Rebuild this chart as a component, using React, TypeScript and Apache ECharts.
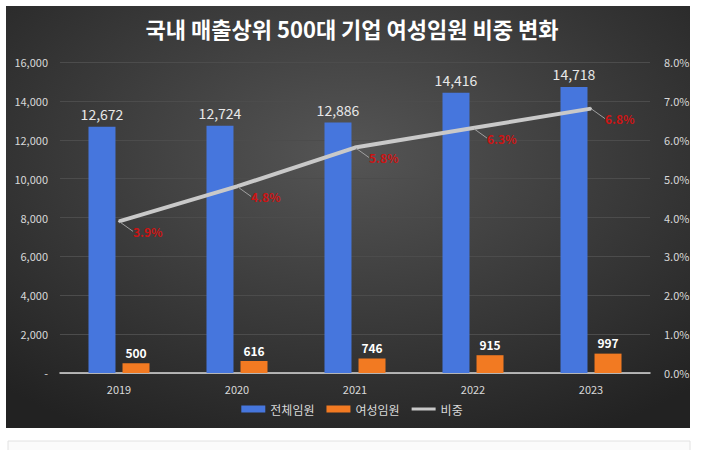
import React, { useEffect, useRef } from "react";
import * as echarts from "echarts";

const title = "국내 매출상위 500대 기업 여성임원 비중 변화";
const years = ["2019", "2020", "2021", "2022", "2023"];
const totalExecs = [12672, 12724, 12886, 14416, 14718];
const femaleExecs = [500, 616, 746, 915, 997];
const femaleShare = [3.9, 4.8, 5.8, 6.3, 6.8];
const seriesNames = ["전체임원", "여성임원", "비중"];

const FONT = "'Noto Sans CJK KR', 'Noto Sans', sans-serif";

export default function App() {
  const ref = useRef<HTMLDivElement>(null);
  useEffect(() => {
    if (!ref.current) return;
    const chart = echarts.init(ref.current, undefined, { renderer: "svg" });
    chart.setOption({
      animation: false,
      backgroundColor: "#ffffff",
      textStyle: { fontFamily: FONT },
      graphic: [
        {
          type: "rect",
          z: -10,
          shape: { x: 6, y: 6, width: 684, height: 422 },
          style: {
            fill: {
              type: "radial",
              x: 0.5,
              y: 0.35,
              r: 0.75,
              colorStops: [
                { offset: 0, color: "#555555" },
                { offset: 1, color: "#222222" },
              ],
            },
          },
        },
        {
          type: "rect",
          z: -10,
          shape: { x: 8, y: 441, width: 682, height: 20 },
          style: { fill: "#fbfbfb", stroke: "#e2e2e2", lineWidth: 1 },
        },
        {
          type: "text",
          left: "center",
          top: 17,
          style: {
            text: title,
            fill: "#ffffff",
            fontSize: 22,
            fontWeight: "bold",
            fontFamily: FONT,
          },
        },
      ],
      legend: {
        bottom: 30,
        left: "center",
        itemWidth: 24,
        itemHeight: 7,
        itemGap: 12,
        textStyle: { color: "#d9d9d9", fontSize: 12, fontFamily: FONT },
        data: [
          { name: seriesNames[0], icon: "rect" },
          { name: seriesNames[1], icon: "rect" },
          { name: seriesNames[2], icon: "path://M0,0 M0,2 L24,2 L24,5 L0,5 Z M24,7" },
        ],
      },
      grid: { left: 60, right: 54, top: 62, bottom: 77 },
      xAxis: {
        type: "category",
        data: years,
        axisLine: { lineStyle: { color: "#d9d9d9", width: 1.5 } },
        axisTick: { show: false },
        axisLabel: { color: "#d9d9d9", fontSize: 11, margin: 10 },
      },
      yAxis: [
        {
          type: "value",
          min: 0,
          max: 16000,
          interval: 2000,
          axisLine: { show: false },
          axisTick: { show: false },
          splitLine: { lineStyle: { color: "#4c4c4c", width: 1 } },
          axisLabel: {
            color: "#d9d9d9",
            fontSize: 11,
            margin: 12,
            formatter: (v: number) => (v === 0 ? "-" : v.toLocaleString("en-US")),
          },
        },
        {
          type: "value",
          min: 0,
          max: 8,
          interval: 1,
          axisLine: { show: false },
          axisTick: { show: false },
          splitLine: { show: false },
          axisLabel: {
            color: "#d9d9d9",
            fontSize: 11,
            margin: 14,
            formatter: (v: number) => v.toFixed(1) + "%",
          },
        },
      ],
      series: [
        {
          name: seriesNames[0],
          type: "bar",
          data: totalExecs,
          barWidth: 27,
          barGap: "26%",
          itemStyle: { color: "#4676dd" },
          label: {
            show: true,
            position: "top",
            distance: 6,
            color: "#e8e8e8",
            fontSize: 14,
            formatter: (p: any) => Number(p.value).toLocaleString("en-US"),
          },
        },
        {
          name: seriesNames[1],
          type: "bar",
          data: femaleExecs,
          barWidth: 27,
          itemStyle: { color: "#f27a22" },
          label: {
            show: true,
            position: "top",
            distance: 5,
            color: "#ffffff",
            fontSize: 12,
            fontWeight: "bold",
            formatter: (p: any) => Number(p.value).toLocaleString("en-US"),
          },
        },
        {
          name: seriesNames[2],
          type: "line",
          yAxisIndex: 1,
          data: femaleShare,
          symbol: "circle",
          symbolSize: 2,
          itemStyle: { color: "#c9c9c9" },
          lineStyle: { color: "#c9c9c9", width: 4 },
          label: {
            show: true,
            position: "right",
            distance: 4,
            color: "#cc1414",
            fontSize: 12,
            fontWeight: "bold",
            formatter: (p: any) => Number(p.value).toFixed(1) + "%",
          },
          labelLayout: { dx: 9, dy: 10 },
          labelLine: { show: true, lineStyle: { color: "#a0a0a0", width: 1 } },
        },
      ],
    });
    return () => chart.dispose();
  }, []);
  return (
    <div
      ref={ref}
      style={{ position: "absolute", left: 0, top: 0, width: 704, height: 450 }}
    />
  );
}
